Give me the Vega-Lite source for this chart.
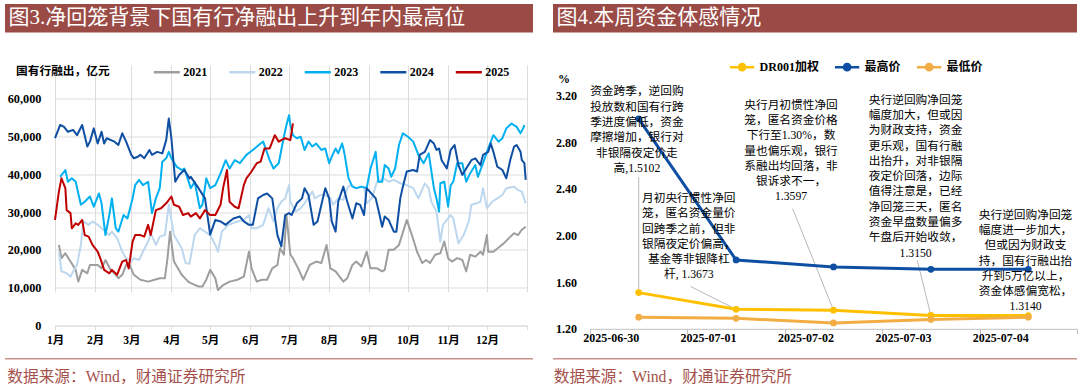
{
"$schema": "https://vega.github.io/schema/vega-lite/v6.json",
"padding": {"left": 5, "top": 4, "right": 0, "bottom": 0},
"background": "#ffffff",
"columns": 2,
"bounds": "flush",
"spacing": {"row": 0.5, "column": 20},
"resolve": {"scale": {"color": "independent"}, "legend": {"color": "independent"}},
"config": {
 "font": "Liberation Serif, Noto Sans CJK SC",
 "view": {"stroke": null},
 "axis": {"labelFont": "Liberation Serif, Noto Sans CJK SC", "labelFontWeight": "bold", "labelColor": "#000000", "titleFont": "Liberation Serif, Noto Sans CJK SC", "titleFontWeight": "bold", "titleColor": "#000000"},
 "legend": {"labelFont": "Liberation Serif, Noto Sans CJK SC", "labelFontWeight": "bold", "labelFontSize": 12, "labelColor": "#000000", "padding": 0}
},
"datasets": {
 "left": [
  {"year":"2021","d":3,"v":21300},{"year":"2021","d":5,"v":17800},{"year":"2021","d":8,"v":19100},{"year":"2021","d":12,"v":16900},{"year":"2021","d":16,"v":14700},{"year":"2021","d":18,"v":11600},{"year":"2021","d":21,"v":14700},{"year":"2021","d":25,"v":13800},{"year":"2021","d":27,"v":16000},{"year":"2021","d":33,"v":16000},{"year":"2021","d":36,"v":15100},{"year":"2021","d":39,"v":17300},{"year":"2021","d":43,"v":14700},{"year":"2021","d":47,"v":13400},{"year":"2021","d":49,"v":12500},{"year":"2021","d":52,"v":13400},{"year":"2021","d":55,"v":16000},{"year":"2021","d":57,"v":16500},{"year":"2021","d":61,"v":13400},{"year":"2021","d":66,"v":12100},{"year":"2021","d":72,"v":11600},{"year":"2021","d":77,"v":12100},{"year":"2021","d":81,"v":12500},{"year":"2021","d":85,"v":12500},{"year":"2021","d":87,"v":17800},{"year":"2021","d":89,"v":24800},{"year":"2021","d":92,"v":16900},{"year":"2021","d":98,"v":13400},{"year":"2021","d":103,"v":11600},{"year":"2021","d":105,"v":11200},{"year":"2021","d":111,"v":10300},{"year":"2021","d":114,"v":10300},{"year":"2021","d":117,"v":12100},{"year":"2021","d":120,"v":14700},{"year":"2021","d":124,"v":12500},{"year":"2021","d":126,"v":9400},{"year":"2021","d":130,"v":10700},{"year":"2021","d":135,"v":11600},{"year":"2021","d":141,"v":12100},{"year":"2021","d":146,"v":12900},{"year":"2021","d":150,"v":19500},{"year":"2021","d":152,"v":15100},{"year":"2021","d":156,"v":11600},{"year":"2021","d":160,"v":12100},{"year":"2021","d":164,"v":12100},{"year":"2021","d":168,"v":15100},{"year":"2021","d":172,"v":16000},{"year":"2021","d":174,"v":20400},{"year":"2021","d":177,"v":18700},{"year":"2021","d":179,"v":29200},{"year":"2021","d":182,"v":18700},{"year":"2021","d":184,"v":17800},{"year":"2021","d":188,"v":15100},{"year":"2021","d":192,"v":12100},{"year":"2021","d":197,"v":16000},{"year":"2021","d":202,"v":16900},{"year":"2021","d":206,"v":16500},{"year":"2021","d":210,"v":21300},{"year":"2021","d":213,"v":15100},{"year":"2021","d":217,"v":14300},{"year":"2021","d":223,"v":11600},{"year":"2021","d":226,"v":12500},{"year":"2021","d":230,"v":16000},{"year":"2021","d":233,"v":16900},{"year":"2021","d":237,"v":15600},{"year":"2021","d":241,"v":19500},{"year":"2021","d":244,"v":15100},{"year":"2021","d":249,"v":15100},{"year":"2021","d":253,"v":14300},{"year":"2021","d":255,"v":14700},{"year":"2021","d":258,"v":20000},{"year":"2021","d":262,"v":20000},{"year":"2021","d":266,"v":21300},{"year":"2021","d":272,"v":27900},{"year":"2021","d":276,"v":23900},{"year":"2021","d":280,"v":19500},{"year":"2021","d":284,"v":16500},{"year":"2021","d":287,"v":17300},{"year":"2021","d":290,"v":16500},{"year":"2021","d":294,"v":18700},{"year":"2021","d":298,"v":19100},{"year":"2021","d":301,"v":22200},{"year":"2021","d":304,"v":17800},{"year":"2021","d":307,"v":16900},{"year":"2021","d":311,"v":17800},{"year":"2021","d":315,"v":17300},{"year":"2021","d":318,"v":14300},{"year":"2021","d":321,"v":18700},{"year":"2021","d":325,"v":18200},{"year":"2021","d":329,"v":19500},{"year":"2021","d":331,"v":18700},{"year":"2021","d":334,"v":23900},{"year":"2021","d":335,"v":19500},{"year":"2021","d":339,"v":19500},{"year":"2021","d":344,"v":20900},{"year":"2021","d":347,"v":21700},{"year":"2021","d":351,"v":23100},{"year":"2021","d":355,"v":24400},{"year":"2021","d":358,"v":23900},{"year":"2021","d":361,"v":25300},{"year":"2021","d":364,"v":26100},
  {"year":"2022","d":3,"v":19500},{"year":"2022","d":5,"v":14300},{"year":"2022","d":9,"v":13800},{"year":"2022","d":12,"v":12900},{"year":"2022","d":14,"v":14300},{"year":"2022","d":17,"v":16000},{"year":"2022","d":20,"v":21300},{"year":"2022","d":22,"v":27500},{"year":"2022","d":26,"v":26600},{"year":"2022","d":29,"v":27500},{"year":"2022","d":33,"v":26600},{"year":"2022","d":36,"v":25700},{"year":"2022","d":39,"v":24800},{"year":"2022","d":42,"v":23900},{"year":"2022","d":44,"v":24800},{"year":"2022","d":48,"v":23100},{"year":"2022","d":52,"v":19500},{"year":"2022","d":55,"v":17800},{"year":"2022","d":59,"v":16900},{"year":"2022","d":61,"v":17800},{"year":"2022","d":65,"v":17300},{"year":"2022","d":68,"v":19500},{"year":"2022","d":72,"v":22200},{"year":"2022","d":74,"v":24400},{"year":"2022","d":78,"v":21300},{"year":"2022","d":81,"v":23500},{"year":"2022","d":85,"v":23900},{"year":"2022","d":88,"v":31900},{"year":"2022","d":92,"v":23900},{"year":"2022","d":98,"v":20400},{"year":"2022","d":101,"v":16500},{"year":"2022","d":104,"v":16300},{"year":"2022","d":108,"v":23900},{"year":"2022","d":112,"v":25700},{"year":"2022","d":116,"v":24800},{"year":"2022","d":120,"v":23900},{"year":"2022","d":124,"v":21300},{"year":"2022","d":126,"v":19500},{"year":"2022","d":129,"v":24800},{"year":"2022","d":134,"v":26600},{"year":"2022","d":141,"v":27500},{"year":"2022","d":146,"v":27900},{"year":"2022","d":150,"v":29200},{"year":"2022","d":152,"v":25700},{"year":"2022","d":156,"v":25700},{"year":"2022","d":161,"v":26600},{"year":"2022","d":165,"v":31000},{"year":"2022","d":169,"v":27500},{"year":"2022","d":172,"v":31000},{"year":"2022","d":175,"v":32700},{"year":"2022","d":178,"v":33600},{"year":"2022","d":181,"v":37100},{"year":"2022","d":182,"v":32700},{"year":"2022","d":186,"v":30100},{"year":"2022","d":190,"v":31000},{"year":"2022","d":193,"v":32300},{"year":"2022","d":199,"v":35400},{"year":"2022","d":201,"v":33600},{"year":"2022","d":205,"v":34500},{"year":"2022","d":209,"v":34500},{"year":"2022","d":213,"v":33600},{"year":"2022","d":215,"v":31900},{"year":"2022","d":219,"v":33600},{"year":"2022","d":223,"v":33200},{"year":"2022","d":226,"v":36300},{"year":"2022","d":228,"v":37100},{"year":"2022","d":233,"v":36300},{"year":"2022","d":239,"v":36700},{"year":"2022","d":241,"v":32300},{"year":"2022","d":245,"v":33600},{"year":"2022","d":249,"v":38000},{"year":"2022","d":254,"v":38900},{"year":"2022","d":258,"v":38000},{"year":"2022","d":262,"v":38500},{"year":"2022","d":267,"v":37600},{"year":"2022","d":272,"v":37100},{"year":"2022","d":277,"v":36300},{"year":"2022","d":281,"v":33600},{"year":"2022","d":286,"v":37600},{"year":"2022","d":289,"v":36300},{"year":"2022","d":291,"v":32700},{"year":"2022","d":295,"v":30100},{"year":"2022","d":298,"v":22200},{"year":"2022","d":300,"v":26600},{"year":"2022","d":306,"v":29200},{"year":"2022","d":308,"v":28300},{"year":"2022","d":312,"v":21700},{"year":"2022","d":316,"v":23900},{"year":"2022","d":320,"v":27500},{"year":"2022","d":322,"v":31900},{"year":"2022","d":326,"v":32300},{"year":"2022","d":329,"v":32700},{"year":"2022","d":331,"v":36300},{"year":"2022","d":334,"v":31000},{"year":"2022","d":338,"v":32700},{"year":"2022","d":342,"v":33600},{"year":"2022","d":346,"v":34500},{"year":"2022","d":349,"v":36300},{"year":"2022","d":355,"v":36700},{"year":"2022","d":358,"v":35800},{"year":"2022","d":361,"v":35400},{"year":"2022","d":364,"v":32300},
  {"year":"2023","d":4,"v":39300},{"year":"2023","d":8,"v":41100},{"year":"2023","d":10,"v":38000},{"year":"2023","d":13,"v":38900},{"year":"2023","d":16,"v":38000},{"year":"2023","d":20,"v":31900},{"year":"2023","d":23,"v":32700},{"year":"2023","d":27,"v":34100},{"year":"2023","d":30,"v":31400},{"year":"2023","d":34,"v":34900},{"year":"2023","d":36,"v":32300},{"year":"2023","d":39,"v":23900},{"year":"2023","d":42,"v":29200},{"year":"2023","d":44,"v":33600},{"year":"2023","d":47,"v":25700},{"year":"2023","d":49,"v":24800},{"year":"2023","d":53,"v":29200},{"year":"2023","d":56,"v":28300},{"year":"2023","d":60,"v":33600},{"year":"2023","d":62,"v":37100},{"year":"2023","d":65,"v":38500},{"year":"2023","d":68,"v":37100},{"year":"2023","d":72,"v":38000},{"year":"2023","d":75,"v":29700},{"year":"2023","d":78,"v":33600},{"year":"2023","d":81,"v":36300},{"year":"2023","d":83,"v":43300},{"year":"2023","d":86,"v":44200},{"year":"2023","d":88,"v":45900},{"year":"2023","d":90,"v":44200},{"year":"2023","d":94,"v":42000},{"year":"2023","d":98,"v":41100},{"year":"2023","d":100,"v":41500},{"year":"2023","d":105,"v":36300},{"year":"2023","d":108,"v":38000},{"year":"2023","d":112,"v":31000},{"year":"2023","d":114,"v":31900},{"year":"2023","d":117,"v":38900},{"year":"2023","d":120,"v":36300},{"year":"2023","d":124,"v":37100},{"year":"2023","d":128,"v":40200},{"year":"2023","d":132,"v":43700},{"year":"2023","d":135,"v":41500},{"year":"2023","d":139,"v":43700},{"year":"2023","d":143,"v":42900},{"year":"2023","d":148,"v":45100},{"year":"2023","d":153,"v":46400},{"year":"2023","d":159,"v":48100},{"year":"2023","d":161,"v":48600},{"year":"2023","d":166,"v":43700},{"year":"2023","d":169,"v":41500},{"year":"2023","d":173,"v":42900},{"year":"2023","d":177,"v":49900},{"year":"2023","d":179,"v":53000},{"year":"2023","d":181,"v":55600},{"year":"2023","d":182,"v":53000},{"year":"2023","d":184,"v":50300},{"year":"2023","d":187,"v":49500},{"year":"2023","d":190,"v":49900},{"year":"2023","d":193,"v":46400},{"year":"2023","d":196,"v":48600},{"year":"2023","d":199,"v":47300},{"year":"2023","d":202,"v":48100},{"year":"2023","d":206,"v":46400},{"year":"2023","d":209,"v":46800},{"year":"2023","d":212,"v":42900},{"year":"2023","d":214,"v":44600},{"year":"2023","d":217,"v":46800},{"year":"2023","d":219,"v":45500},{"year":"2023","d":222,"v":48100},{"year":"2023","d":223,"v":46800},{"year":"2023","d":224,"v":45100},{"year":"2023","d":227,"v":38900},{"year":"2023","d":230,"v":36700},{"year":"2023","d":233,"v":36300},{"year":"2023","d":237,"v":36700},{"year":"2023","d":241,"v":36300},{"year":"2023","d":244,"v":41500},{"year":"2023","d":248,"v":45900},{"year":"2023","d":250,"v":38000},{"year":"2023","d":253,"v":38000},{"year":"2023","d":255,"v":42400},{"year":"2023","d":258,"v":41500},{"year":"2023","d":260,"v":39300},{"year":"2023","d":263,"v":41500},{"year":"2023","d":266,"v":47700},{"year":"2023","d":269,"v":50800},{"year":"2023","d":273,"v":49900},{"year":"2023","d":277,"v":48600},{"year":"2023","d":281,"v":45100},{"year":"2023","d":285,"v":42900},{"year":"2023","d":289,"v":45500},{"year":"2023","d":293,"v":36300},{"year":"2023","d":295,"v":33600},{"year":"2023","d":297,"v":30100},{"year":"2023","d":298,"v":37600},{"year":"2023","d":301,"v":38000},{"year":"2023","d":304,"v":31400},{"year":"2023","d":306,"v":37100},{"year":"2023","d":308,"v":38000},{"year":"2023","d":311,"v":42900},{"year":"2023","d":315,"v":42900},{"year":"2023","d":318,"v":38000},{"year":"2023","d":321,"v":40200},{"year":"2023","d":325,"v":42400},{"year":"2023","d":327,"v":39300},{"year":"2023","d":331,"v":42900},{"year":"2023","d":335,"v":46800},{"year":"2023","d":339,"v":50300},{"year":"2023","d":343,"v":48600},{"year":"2023","d":346,"v":49500},{"year":"2023","d":349,"v":52100},{"year":"2023","d":353,"v":53400},{"year":"2023","d":357,"v":52500},{"year":"2023","d":360,"v":50800},{"year":"2023","d":362,"v":52100},{"year":"2023","d":363,"v":53000},
  {"year":"2024","d":0,"v":49500},{"year":"2024","d":4,"v":53000},{"year":"2024","d":7,"v":52500},{"year":"2024","d":10,"v":51200},{"year":"2024","d":14,"v":51700},{"year":"2024","d":17,"v":50300},{"year":"2024","d":21,"v":53000},{"year":"2024","d":25,"v":47300},{"year":"2024","d":27,"v":48600},{"year":"2024","d":30,"v":52100},{"year":"2024","d":33,"v":48100},{"year":"2024","d":36,"v":51200},{"year":"2024","d":38,"v":48100},{"year":"2024","d":40,"v":49500},{"year":"2024","d":46,"v":48600},{"year":"2024","d":49,"v":47700},{"year":"2024","d":52,"v":50800},{"year":"2024","d":55,"v":48600},{"year":"2024","d":59,"v":45100},{"year":"2024","d":61,"v":44200},{"year":"2024","d":64,"v":44600},{"year":"2024","d":66,"v":45100},{"year":"2024","d":69,"v":44200},{"year":"2024","d":73,"v":46400},{"year":"2024","d":75,"v":45100},{"year":"2024","d":79,"v":45900},{"year":"2024","d":83,"v":45500},{"year":"2024","d":86,"v":49000},{"year":"2024","d":88,"v":54700},{"year":"2024","d":90,"v":49500},{"year":"2024","d":93,"v":38000},{"year":"2024","d":96,"v":39800},{"year":"2024","d":100,"v":41100},{"year":"2024","d":104,"v":38900},{"year":"2024","d":105,"v":39300},{"year":"2024","d":111,"v":36300},{"year":"2024","d":116,"v":33600},{"year":"2024","d":120,"v":24000},{"year":"2024","d":124,"v":27900},{"year":"2024","d":128,"v":27500},{"year":"2024","d":132,"v":26600},{"year":"2024","d":135,"v":27500},{"year":"2024","d":138,"v":28300},{"year":"2024","d":143,"v":28800},{"year":"2024","d":146,"v":27500},{"year":"2024","d":150,"v":26600},{"year":"2024","d":153,"v":26600},{"year":"2024","d":157,"v":33600},{"year":"2024","d":161,"v":34500},{"year":"2024","d":164,"v":34900},{"year":"2024","d":168,"v":33600},{"year":"2024","d":172,"v":23900},{"year":"2024","d":175,"v":20900},{"year":"2024","d":178,"v":29200},{"year":"2024","d":181,"v":29700},{"year":"2024","d":183,"v":29200},{"year":"2024","d":187,"v":32300},{"year":"2024","d":191,"v":33600},{"year":"2024","d":193,"v":36300},{"year":"2024","d":196,"v":34500},{"year":"2024","d":200,"v":26600},{"year":"2024","d":203,"v":27500},{"year":"2024","d":206,"v":31900},{"year":"2024","d":209,"v":36300},{"year":"2024","d":212,"v":33600},{"year":"2024","d":214,"v":27500},{"year":"2024","d":217,"v":24800},{"year":"2024","d":219,"v":32700},{"year":"2024","d":223,"v":36700},{"year":"2024","d":226,"v":32700},{"year":"2024","d":230,"v":28300},{"year":"2024","d":233,"v":32300},{"year":"2024","d":236,"v":31900},{"year":"2024","d":239,"v":29200},{"year":"2024","d":241,"v":36300},{"year":"2024","d":248,"v":33600},{"year":"2024","d":251,"v":29200},{"year":"2024","d":253,"v":26100},{"year":"2024","d":255,"v":28800},{"year":"2024","d":258,"v":27900},{"year":"2024","d":262,"v":24800},{"year":"2024","d":264,"v":24800},{"year":"2024","d":267,"v":33600},{"year":"2024","d":269,"v":36700},{"year":"2024","d":272,"v":40700},{"year":"2024","d":277,"v":41100},{"year":"2024","d":280,"v":40700},{"year":"2024","d":282,"v":45100},{"year":"2024","d":286,"v":45900},{"year":"2024","d":290,"v":49000},{"year":"2024","d":293,"v":48100},{"year":"2024","d":295,"v":46400},{"year":"2024","d":297,"v":46800},{"year":"2024","d":299,"v":43700},{"year":"2024","d":303,"v":41500},{"year":"2024","d":306,"v":46400},{"year":"2024","d":309,"v":47700},{"year":"2024","d":312,"v":42400},{"year":"2024","d":315,"v":39800},{"year":"2024","d":318,"v":41500},{"year":"2024","d":322,"v":43700},{"year":"2024","d":325,"v":44200},{"year":"2024","d":329,"v":42400},{"year":"2024","d":331,"v":45100},{"year":"2024","d":335,"v":45900},{"year":"2024","d":337,"v":48100},{"year":"2024","d":339,"v":45900},{"year":"2024","d":342,"v":42000},{"year":"2024","d":346,"v":41100},{"year":"2024","d":349,"v":38900},{"year":"2024","d":352,"v":43700},{"year":"2024","d":355,"v":47300},{"year":"2024","d":357,"v":47700},{"year":"2024","d":360,"v":45900},{"year":"2024","d":361,"v":43700},{"year":"2024","d":363,"v":42900},{"year":"2024","d":364,"v":38500},
  {"year":"2025","d":0,"v":27900},{"year":"2025","d":3,"v":35400},{"year":"2025","d":5,"v":38900},{"year":"2025","d":8,"v":36300},{"year":"2025","d":9,"v":30500},{"year":"2025","d":12,"v":29700},{"year":"2025","d":13,"v":25700},{"year":"2025","d":16,"v":27000},{"year":"2025","d":18,"v":26600},{"year":"2025","d":21,"v":27900},{"year":"2025","d":23,"v":23900},{"year":"2025","d":26,"v":23500},{"year":"2025","d":29,"v":21300},{"year":"2025","d":33,"v":19500},{"year":"2025","d":35,"v":17800},{"year":"2025","d":38,"v":14700},{"year":"2025","d":42,"v":13800},{"year":"2025","d":44,"v":14700},{"year":"2025","d":48,"v":13400},{"year":"2025","d":52,"v":16900},{"year":"2025","d":55,"v":17300},{"year":"2025","d":57,"v":15100},{"year":"2025","d":60,"v":22200},{"year":"2025","d":62,"v":23900},{"year":"2025","d":66,"v":23900},{"year":"2025","d":69,"v":23500},{"year":"2025","d":72,"v":26600},{"year":"2025","d":74,"v":23900},{"year":"2025","d":78,"v":30500},{"year":"2025","d":82,"v":31000},{"year":"2025","d":86,"v":32300},{"year":"2025","d":90,"v":34100},{"year":"2025","d":92,"v":31900},{"year":"2025","d":96,"v":31400},{"year":"2025","d":99,"v":29200},{"year":"2025","d":103,"v":29700},{"year":"2025","d":105,"v":28800},{"year":"2025","d":109,"v":29700},{"year":"2025","d":112,"v":28300},{"year":"2025","d":116,"v":30500},{"year":"2025","d":120,"v":29200},{"year":"2025","d":124,"v":29200},{"year":"2025","d":128,"v":31900},{"year":"2025","d":130,"v":36300},{"year":"2025","d":133,"v":41100},{"year":"2025","d":135,"v":32700},{"year":"2025","d":139,"v":31400},{"year":"2025","d":142,"v":31000},{"year":"2025","d":146,"v":37100},{"year":"2025","d":148,"v":38900},{"year":"2025","d":152,"v":40700},{"year":"2025","d":156,"v":42900},{"year":"2025","d":159,"v":43300},{"year":"2025","d":162,"v":46800},{"year":"2025","d":166,"v":46800},{"year":"2025","d":170,"v":50300},{"year":"2025","d":173,"v":48600},{"year":"2025","d":175,"v":49000},{"year":"2025","d":178,"v":49500},{"year":"2025","d":182,"v":49000},{"year":"2025","d":184,"v":53400}
 ],
 "right": [
  {"date":"2025-06-30","series":"DR001加权","v":1.5102},{"date":"2025-07-01","series":"DR001加权","v":1.3673},{"date":"2025-07-02","series":"DR001加权","v":1.3597},{"date":"2025-07-03","series":"DR001加权","v":1.315},{"date":"2025-07-04","series":"DR001加权","v":1.314},
  {"date":"2025-06-30","series":"最高价","v":3.0},{"date":"2025-07-01","series":"最高价","v":1.79},{"date":"2025-07-02","series":"最高价","v":1.73},{"date":"2025-07-03","series":"最高价","v":1.71},{"date":"2025-07-04","series":"最高价","v":1.71},
  {"date":"2025-06-30","series":"最低价","v":1.3},{"date":"2025-07-01","series":"最低价","v":1.29},{"date":"2025-07-02","series":"最低价","v":1.25},{"date":"2025-07-03","series":"最低价","v":1.28},{"date":"2025-07-04","series":"最低价","v":1.3}
 ],
 "notes": [
  {"date":"2025-06-30","v":1.5102,"note":"资金跨季，逆回购\n投放数和国有行跨\n季进度偏低，资金\n摩擦增加，银行对\n非银隔夜定价走\n高,1.5102"},
  {"date":"2025-07-01","v":1.3673,"note":"月初央行惯性净回\n笼，匿名资金量价\n回跨季之前，但非\n银隔夜定价偏高，\n基金等非银降杠\n杆, 1.3673"},
  {"date":"2025-07-02","v":1.3597,"note":"央行月初惯性净回\n笼，匿名资金价格\n下行至1.30%，数\n量也偏乐观，银行\n系融出均回落，非\n银诉求不一，\n1.3597"},
  {"date":"2025-07-03","v":1.315,"note":"央行逆回购净回笼\n幅度加大，但或因\n为财政支持，资金\n更乐观，国有行融\n出抬升，对非银隔\n夜定价回落，边际\n值得注意是，已经\n净回笼三天，匿名\n资金早盘数量偏多\n午盘后开始收敛，\n1.3150"},
  {"date":"2025-07-04","v":1.314,"note":"央行逆回购净回笼\n幅度进一步加大，\n但或因为财政支\n持，国有行融出抬\n升到5万亿以上，\n资金体感偏宽松，\n1.3140"}
 ]
},
"concat": [
  {"width": 528, "height": 28.5, "view": {"fill": "#9B4B46", "stroke": null},
   "data": {"values": [{"t": "图3.净回笼背景下国有行净融出上升到年内最高位"}]},
   "mark": {"type": "text", "align": "left", "baseline": "middle", "color": "#FFFFFF", "fontSize": 21, "font": "Liberation Serif, Noto Sans CJK SC", "dx": 3.5},
   "encoding": {"text": {"field": "t"},
    "x": {"datum": 0, "type": "quantitative", "scale": {"domain": [0, 1]}, "axis": null},
    "y": {"datum": 0.5, "type": "quantitative", "scale": {"domain": [0, 1]}, "axis": null}}},
  {"width": 524, "height": 28.5, "view": {"fill": "#9B4B46", "stroke": null},
   "data": {"values": [{"t": "图4.本周资金体感情况"}]},
   "mark": {"type": "text", "align": "left", "baseline": "middle", "color": "#FFFFFF", "fontSize": 21, "font": "Liberation Serif, Noto Sans CJK SC", "dx": 3.5},
   "encoding": {"text": {"field": "t"},
    "x": {"datum": 0, "type": "quantitative", "scale": {"domain": [0, 1]}, "axis": null},
    "y": {"datum": 0.5, "type": "quantitative", "scale": {"domain": [0, 1]}, "axis": null}}},
  {"width": 522, "height": 323.5,
    "data": {"name": "left"},
    "mark": {"type": "line", "strokeWidth": 2, "strokeJoin": "round"},
    "encoding": {
     "x": {"field": "d", "type": "quantitative", "scale": {"domain": [0, 365], "nice": false, "zero": false, "range": [50, 522]},
      "axis": {"title": null, "offset": -31.5, "values": [0,31,59,90,120,151,181,212,243,273,304,334,365], "labelExpr": "datum.value >= 365 ? '' : (indexof([0,31,59,90,120,151,181,212,243,273,304,334], datum.value) + 1) + '月'", "grid": true, "gridColor": "#DDDDDD", "domainColor": "#DDDDDD", "tickColor": "#DDDDDD", "tickSize": 4, "labelPadding": 5, "labelFontSize": 11.5, "labelFlush": false, "labelOverlap": false}},
     "y": {"field": "v", "type": "quantitative", "scale": {"domain": [0, 60000], "nice": false, "range": [292, 65]},
      "axis": {"title": "国有行融出，亿元", "offset": -50, "values": [0,10000,20000,30000,40000,50000,60000], "format": ",.0f", "grid": true, "gridColor": "#DDDDDD", "domain": false, "ticks": false, "labelPadding": 14, "labelFontSize": 12.3, "labelOverlap": false, "titleAngle": 0, "titleAlign": "left", "titleBaseline": "middle", "titleX": -39.4, "titleY": 37, "titleFontSize": 11.7}},
     "color": {"field": "year", "type": "nominal",
      "scale": {"domain": ["2021","2022","2023","2024","2025"], "range": ["#9E9E9E","#BDD7EE","#00B0F0","#0E4FA3","#C00000"]},
      "legend": {"title": null, "orient": "none", "direction": "horizontal", "legendX": 147.3, "legendY": 24, "symbolType": "stroke", "symbolSize": 676, "symbolStrokeWidth": 2.5, "labelOffset": 2, "columnPadding": 16.5}}
    }
  },
  {"width": 524, "height": 323.5,
    "layer": [
     {"data": {"name": "notes"}, "transform": [{"filter": "datum.date == '2025-06-30'"}],
      "mark": {"type": "rule", "color": "#A6A6A6", "strokeWidth": 0.8, "x2Offset": 0, "y2Offset": -115.4},
      "encoding": {"x": {"field": "date", "type": "ordinal", "bandPosition": 0.5, "title": null}, "x2": {"field": "date", "bandPosition": 0.5}, "y": {"field": "v", "type": "quantitative", "title": "%"}, "y2": {"field": "v"}}},
     {"data": {"name": "notes"}, "transform": [{"filter": "datum.date == '2025-07-01'"}],
      "mark": {"type": "rule", "color": "#A6A6A6", "strokeWidth": 0.8, "x2Offset": -45.5, "y2Offset": -22.8},
      "encoding": {"x": {"field": "date", "type": "ordinal", "bandPosition": 0.5, "title": null}, "x2": {"field": "date", "bandPosition": 0.5}, "y": {"field": "v", "type": "quantitative", "title": "%"}, "y2": {"field": "v"}}},
     {"data": {"name": "notes"}, "transform": [{"filter": "datum.date == '2025-07-02'"}],
      "mark": {"type": "rule", "color": "#A6A6A6", "strokeWidth": 0.8, "x2Offset": -40.8, "y2Offset": -101.4},
      "encoding": {"x": {"field": "date", "type": "ordinal", "bandPosition": 0.5, "title": null}, "x2": {"field": "date", "bandPosition": 0.5}, "y": {"field": "v", "type": "quantitative", "title": "%"}, "y2": {"field": "v"}}},
     {"data": {"name": "notes"}, "transform": [{"filter": "datum.date == '2025-07-03'"}],
      "mark": {"type": "rule", "color": "#A6A6A6", "strokeWidth": 0.8, "x2Offset": -13.6, "y2Offset": -54.9},
      "encoding": {"x": {"field": "date", "type": "ordinal", "bandPosition": 0.5, "title": null}, "x2": {"field": "date", "bandPosition": 0.5}, "y": {"field": "v", "type": "quantitative", "title": "%"}, "y2": {"field": "v"}}},
     {"data": {"name": "right"},
      "mark": {"type": "line", "strokeWidth": 3, "point": {"size": 45, "filled": true, "opacity": 1}},
      "encoding": {
       "x": {"field": "date", "type": "ordinal", "bandPosition": 0.5, "scale": {"type": "band", "paddingInner": 0, "paddingOuter": 0, "range": [37, 524]},
        "axis": {"title": null, "offset": -28.2, "tickBand": "extent", "tickSize": 5, "tickColor": "#C0C0C0", "domainColor": "#C0C0C0", "labelPadding": 4, "labelAngle": 0, "labelFontSize": 12, "grid": false}},
       "y": {"field": "v", "type": "quantitative", "scale": {"domain": [1.2, 3.2], "nice": false, "zero": false, "range": [295.3, 62]},
        "axis": {"title": "%", "offset": -37, "values": [1.2,1.4,1.6,1.8,2,2.2,2.4,2.6,2.8,3,3.2], "format": ".2f", "grid": false, "domain": false, "ticks": false, "labelPadding": 13.5, "labelFontSize": 12, "labelOverlap": false, "titleAngle": 0, "titleAlign": "center", "titleBaseline": "middle", "titleX": -26.5, "titleY": 44.7, "titleFontSize": 12}},
       "color": {"field": "series", "type": "nominal",
        "scale": {"domain": ["DR001加权","最高价","最低价"], "range": ["#FFC000","#0E4FA3","#F2AE45"]},
        "legend": {"title": null, "orient": "none", "direction": "horizontal", "legendX": 175.6, "legendY": 20, "symbolType": "M-1,0H1M0.26,0A0.26,0.26,0,1,1,-0.26,0A0.26,0.26,0,1,1,0.26,0Z", "symbolSize": 590, "symbolStrokeWidth": 2.5, "labelOffset": 4, "columnPadding": 10,
         "encode": {"symbols": {"update": {"fill": {"scale": "color", "field": "value"}, "stroke": {"scale": "color", "field": "value"}, "opacity": {"value": 1}}}}}}
      }},
     {"data": {"name": "notes"}, "transform": [{"filter": "datum.date == '2025-06-30'"}],
      "mark": {"type": "text", "align": "center", "baseline": "top", "lineBreak": "\n", "lineHeight": 15.3, "fontSize": 11.7, "font": "Liberation Serif, Noto Sans CJK SC", "color": "#000000", "dx": -1.8, "dy": -206.2},
      "encoding": {"x": {"field": "date", "type": "ordinal", "bandPosition": 0.5, "title": null}, "y": {"field": "v", "type": "quantitative", "title": "%"}, "text": {"field": "note"}}},
     {"data": {"name": "notes"}, "transform": [{"filter": "datum.date == '2025-07-01'"}],
      "mark": {"type": "text", "align": "center", "baseline": "top", "lineBreak": "\n", "lineHeight": 15.3, "fontSize": 11.7, "font": "Liberation Serif, Noto Sans CJK SC", "color": "#000000", "dx": -47.3, "dy": -116.3},
      "encoding": {"x": {"field": "date", "type": "ordinal", "bandPosition": 0.5, "title": null}, "y": {"field": "v", "type": "quantitative", "title": "%"}, "text": {"field": "note"}}},
     {"data": {"name": "notes"}, "transform": [{"filter": "datum.date == '2025-07-02'"}],
      "mark": {"type": "text", "align": "center", "baseline": "top", "lineBreak": "\n", "lineHeight": 15.3, "fontSize": 11.7, "font": "Liberation Serif, Noto Sans CJK SC", "color": "#000000", "dx": -42.5, "dy": -210.5},
      "encoding": {"x": {"field": "date", "type": "ordinal", "bandPosition": 0.5, "title": null}, "y": {"field": "v", "type": "quantitative", "title": "%"}, "text": {"field": "note"}}},
     {"data": {"name": "notes"}, "transform": [{"filter": "datum.date == '2025-07-03'"}],
      "mark": {"type": "text", "align": "center", "baseline": "top", "lineBreak": "\n", "lineHeight": 15.3, "fontSize": 11.7, "font": "Liberation Serif, Noto Sans CJK SC", "color": "#000000", "dx": -15.3, "dy": -220.7},
      "encoding": {"x": {"field": "date", "type": "ordinal", "bandPosition": 0.5, "title": null}, "y": {"field": "v", "type": "quantitative", "title": "%"}, "text": {"field": "note"}}},
     {"data": {"name": "notes"}, "transform": [{"filter": "datum.date == '2025-07-04'"}],
      "mark": {"type": "text", "align": "center", "baseline": "top", "lineBreak": "\n", "lineHeight": 15.3, "fontSize": 11.7, "font": "Liberation Serif, Noto Sans CJK SC", "color": "#000000", "dx": -2.8, "dy": -105.8},
      "encoding": {"x": {"field": "date", "type": "ordinal", "bandPosition": 0.5, "title": null}, "y": {"field": "v", "type": "quantitative", "title": "%"}, "text": {"field": "note"}}}
    ]
  },
  {"width": 528, "height": 1.6, "view": {"fill": "#C9918D", "stroke": null},
    "data": {"values": [{"t": "数据来源：Wind，财通证券研究所"}]},
    "mark": {"type": "text", "align": "left", "baseline": "middle", "color": "#A5504B", "fontSize": 15.7, "font": "Liberation Serif, Noto Sans CJK SC", "dx": 2.3, "dy": 17.5},
    "encoding": {"text": {"field": "t"},
     "x": {"datum": 0, "type": "quantitative", "scale": {"domain": [0, 1]}, "axis": null},
     "y": {"datum": 0, "type": "quantitative", "scale": {"domain": [0, 1]}, "axis": null}}},
  {"width": 524, "height": 1.6, "view": {"fill": "#C9918D", "stroke": null},
    "data": {"values": [{"t": "数据来源：Wind，财通证券研究所"}]},
    "mark": {"type": "text", "align": "left", "baseline": "middle", "color": "#A5504B", "fontSize": 15.7, "font": "Liberation Serif, Noto Sans CJK SC", "dx": 0.8, "dy": 17.5},
    "encoding": {"text": {"field": "t"},
     "x": {"datum": 0, "type": "quantitative", "scale": {"domain": [0, 1]}, "axis": null},
     "y": {"datum": 0, "type": "quantitative", "scale": {"domain": [0, 1]}, "axis": null}}}
]
}
